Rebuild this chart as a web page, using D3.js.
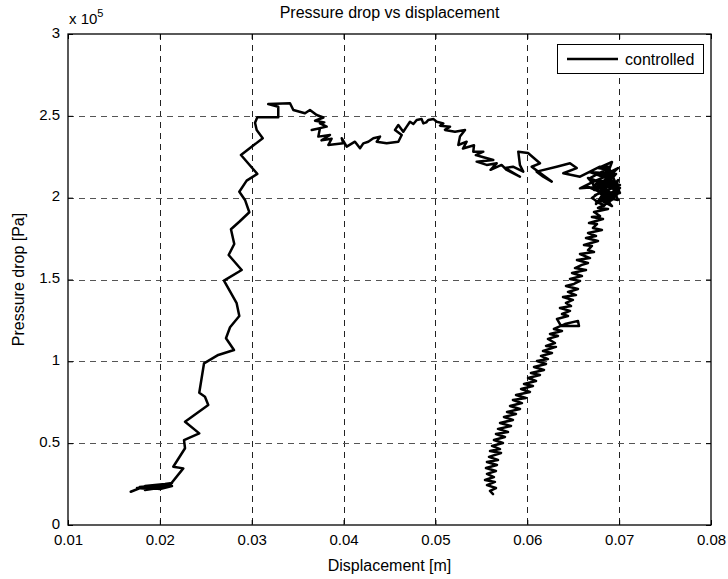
<!DOCTYPE html>
<html><head><meta charset="utf-8">
<script src="https://cdn.jsdelivr.net/npm/d3@7"></script>
<style>body{margin:0;background:#fff}svg{display:block}text{font-family:Arial,"Liberation Sans",Helvetica,sans-serif;fill:#000}</style>
</head><body><svg id="c" width="728" height="579"></svg>
<script>
// ---- data ----
const xTicks = [0.01, 0.02, 0.03, 0.04, 0.05, 0.06, 0.07, 0.08];
const yTicks = [0, 0.5, 1, 1.5, 2, 2.5, 3];            // x 10^5 Pa
const seriesName = "controlled";
// [displacement (m), pressure drop (x10^5 Pa)]
const riseLeg = [
 [0.01683,0.203],[0.01838,0.238],[0.02056,0.250],[0.02132,0.257],[0.01893,0.220],[0.01751,0.226],
 [0.02001,0.232],[0.02089,0.244],[0.01838,0.214],[0.02132,0.238],[0.02001,0.220],[0.01780,0.232],
 [0.02120,0.250],[0.01870,0.228],[0.02080,0.236],[0.02110,0.244],
 [0.02255,0.346],[0.02146,0.356],[0.02274,0.469],[0.02263,0.519],[0.02429,0.560],[0.02274,0.631],
 [0.02527,0.733],[0.02491,0.784],[0.02429,0.808],[0.02481,0.988],[0.02636,1.039],[0.02807,1.069],
 [0.02720,1.141],[0.02764,1.208],[0.02865,1.277],[0.02836,1.355],[0.02698,1.493],[0.02891,1.558],
 [0.02749,1.650],[0.02810,1.717],[0.02774,1.807],[0.02865,1.853],[0.02974,1.911],[0.02927,1.986],
 [0.02865,2.036],[0.02945,2.104],[0.03061,2.145],[0.02883,2.261],[0.03120,2.363],[0.03054,2.413],
 [0.03036,2.458],[0.03061,2.491],[0.03289,2.491],[0.03289,2.556],[0.03180,2.572],[0.03417,2.577]
];
const plateauLeg = [
 [0.03453,2.536],[0.03580,2.516],[0.03634,2.536],[0.03707,2.505],[0.03780,2.490],[0.03690,2.470],
 [0.03790,2.460],[0.03743,2.454],[0.03816,2.434],[0.03653,2.414],[0.03743,2.424],[0.03725,2.373],
 [0.03852,2.383],[0.03760,2.350],[0.03870,2.360],[0.03834,2.322],[0.03997,2.332],[0.03980,2.363],
 [0.04034,2.312],[0.04124,2.342],[0.04179,2.302],[0.04215,2.332],[0.04269,2.342],[0.04324,2.363],
 [0.04397,2.373],[0.04361,2.342],[0.04469,2.332],[0.04596,2.342],[0.04633,2.383],[0.04560,2.414],
 [0.04596,2.444],[0.04650,2.403],[0.04687,2.434],[0.04723,2.464],[0.04760,2.450],[0.04796,2.475],
 [0.04850,2.480],[0.04868,2.454],[0.04900,2.460],[0.04922,2.475],[0.04980,2.480],[0.05014,2.464],
 [0.05086,2.454],[0.05050,2.440],[0.05159,2.434],[0.05104,2.414],[0.05213,2.403],[0.05322,2.414],
 [0.05267,2.373],[0.05249,2.322],[0.05340,2.342],[0.05300,2.300],[0.05420,2.320],[0.05412,2.281],
 [0.05521,2.281],[0.05440,2.260],[0.05504,2.250],[0.05630,2.230],[0.05449,2.220],[0.05558,2.200],
 [0.05667,2.210],[0.05600,2.170],[0.05720,2.200],[0.05776,2.169],[0.05920,2.128]
];
const cornerLeg = [
 [0.05757,2.181],[0.05844,2.189],[0.05956,2.159],[0.05920,2.200],[0.05902,2.281],[0.06008,2.273],
 [0.06138,2.210],[0.06048,2.189],[0.06266,2.098],[0.06174,2.128],[0.06102,2.159],[0.06320,2.189],
 [0.06465,2.210],[0.06538,2.181],[0.06392,2.149],[0.06574,2.128],[0.06683,2.159],[0.06791,2.189],
 [0.06882,2.189],[0.06846,2.128],[0.06683,2.088],[0.06574,2.057],[0.06791,2.067],[0.06900,2.108],
 [0.06756,2.149],[0.06936,2.128],[0.06973,2.047],[0.06827,2.006],[0.06719,2.077],[0.06864,2.098],
 [0.06991,2.027],[0.06882,1.966],[0.06810,2.047],[0.06955,2.169],[0.06770,2.108],[0.07009,2.077],
 [0.06737,2.016],[0.06922,2.059],[0.06683,2.120],[0.06846,2.169],[0.06988,1.986],[0.06810,2.006],
 [0.07009,2.029],[0.06900,2.169],[0.06770,2.181],[0.06922,2.218],[0.06857,2.120],[0.06683,2.157],
 [0.06966,2.145],[0.06792,2.035],[0.06639,2.071],[0.06900,2.010],[0.06748,2.084],[0.07009,2.059],
 [0.06835,1.949],[0.06704,1.998],[0.06944,2.096],[0.06813,2.132],[0.06988,2.181],[0.06726,2.047],
 [0.06879,2.071],[0.06661,2.120],[0.06922,1.949],[0.06792,1.986],[0.06966,2.010],[0.06857,2.047],
 [0.06748,1.961],[0.06988,2.108]
];
const descentLeg = [
 [0.06922,1.986],[0.06748,1.974],[0.06835,1.955],[0.06770,1.937],[0.06879,1.931],[0.06726,1.912],
 [0.06792,1.888],[0.06704,1.882],[0.06824,1.870],[0.06672,1.845],[0.06759,1.839],[0.06715,1.815],
 [0.06813,1.802],[0.06661,1.784],[0.06748,1.766],[0.06639,1.754],[0.06770,1.735],[0.06617,1.711],
 [0.06704,1.705],[0.06661,1.680],[0.06726,1.668],[0.06574,1.656],[0.06683,1.631],[0.06541,1.619],
 [0.06661,1.601],[0.06595,1.589],[0.06519,1.570],[0.06639,1.558],[0.06487,1.540],[0.06595,1.521],
 [0.06465,1.503],[0.06574,1.491],[0.06508,1.473],[0.06421,1.460],[0.06552,1.442],[0.06443,1.424],
 [0.06530,1.405],[0.06389,1.393],[0.06497,1.375],[0.06421,1.357],[0.06476,1.338],[0.06356,1.326],
 [0.06465,1.308],[0.06378,1.289],[0.06443,1.277],[0.06323,1.259],[0.06367,1.216],[0.06563,1.216],
 [0.06552,1.247],[0.06410,1.228],[0.06290,1.198],[0.06378,1.185],[0.06247,1.167],[0.06334,1.155],
 [0.06225,1.137],[0.06301,1.112],[0.06204,1.094],[0.06312,1.088],[0.06171,1.063],[0.06269,1.051],
 [0.06149,1.033],[0.06225,1.014],[0.06106,1.002],[0.06204,0.984],[0.06073,0.965],[0.06182,0.947],
 [0.06040,0.929],[0.06138,0.917],[0.06008,0.898],[0.06095,0.880],[0.05964,0.862],[0.06062,0.849],
 [0.05932,0.831],[0.06029,0.813],[0.05877,0.794],[0.05986,0.776],[0.05844,0.764],[0.05942,0.745],
 [0.05812,0.727],[0.05921,0.709],[0.05779,0.690],[0.05877,0.678],[0.05746,0.660],[0.05844,0.642],
 [0.05703,0.623],[0.05823,0.605],[0.05681,0.587],[0.05790,0.568],[0.05659,0.556],[0.05757,0.538],
 [0.05637,0.519],[0.05735,0.501],[0.05616,0.483],[0.05703,0.464],[0.05594,0.452],[0.05714,0.440],
 [0.05583,0.416],[0.05681,0.397],[0.05561,0.385],[0.05670,0.367],[0.05550,0.348],[0.05659,0.330],
 [0.05561,0.312],[0.05637,0.293],[0.05540,0.275],[0.05648,0.263],[0.05561,0.244],[0.05659,0.226],
 [0.05594,0.208],[0.05627,0.189]
];

// ---- layout ----
const M = {left: 68, right: 711, top: 34, bottom: 525};
const svg = d3.select("#c");
const x = d3.scaleLinear().domain([0.01, 0.08]).range([M.left, M.right]);
const y = d3.scaleLinear().domain([0, 3]).range([M.bottom, M.top]);
const path = riseLeg.concat(plateauLeg, cornerLeg, descentLeg);

// grid
const grid = svg.append("g").attr("stroke", "#222").attr("stroke-width", 1)
  .attr("stroke-dasharray", "6,5").attr("shape-rendering", "crispEdges");
grid.selectAll("line.v").data(xTicks.slice(1, -1)).enter().append("line")
  .attr("x1", d => Math.round(x(d)) + 0.5).attr("x2", d => Math.round(x(d)) + 0.5)
  .attr("y1", M.top).attr("y2", M.bottom);
grid.selectAll("line.h").data(yTicks.slice(1, -1)).enter().append("line")
  .attr("y1", d => Math.round(y(d)) + 0.5).attr("y2", d => Math.round(y(d)) + 0.5)
  .attr("x1", M.left).attr("x2", M.right).attr("stroke", "#555");

// axes (inward ticks, MATLAB style)
const fmtX = d => d3.format(".2f")(d);
const fmtY = d => (d === 0 ? "0" : d3.format("~g")(d));
const xAxisB = d3.axisBottom(x).tickValues(xTicks).tickSize(-5).tickPadding(9).tickFormat(fmtX);
const xAxisT = d3.axisTop(x).tickValues(xTicks).tickSize(-5).tickFormat("");
const yAxisL = d3.axisLeft(y).tickValues(yTicks).tickSize(-5).tickPadding(8).tickFormat(fmtY);
const yAxisR = d3.axisRight(y).tickValues(yTicks).tickSize(-5).tickFormat("");
function style(g){
  g.selectAll(".tick line").attr("stroke", "#000");
  g.selectAll(".tick text").attr("font-size", 15).attr("font-family", "Arial, 'Liberation Sans', sans-serif").attr("fill", "#000");
}
svg.append("g").attr("transform", `translate(0,${M.bottom})`).call(xAxisB).call(style);
svg.append("g").attr("transform", `translate(0,${M.top})`).call(xAxisT).call(style);
const gy = svg.append("g").attr("transform", `translate(${M.left},0)`).call(yAxisL).call(style);
gy.selectAll(".tick text").attr("dy", "0.22em");
svg.append("g").attr("transform", `translate(${M.right},0)`).call(yAxisR).call(style);
svg.selectAll(".domain").remove();
svg.append("rect").attr("x", M.left).attr("y", M.top).attr("width", M.right - M.left)
  .attr("height", M.bottom - M.top).attr("fill", "none").attr("stroke", "#000").attr("stroke-width", 1.3);

// data line
svg.append("path").datum(path)
  .attr("fill", "none").attr("stroke", "#000").attr("stroke-width", 2.5)
  .attr("stroke-linejoin", "round").attr("stroke-linecap", "round")
  .attr("d", d3.line().x(d => x(d[0])).y(d => y(d[1])));

// exponent label
const ex = svg.append("text").attr("x", M.left + 1).attr("y", 24).attr("font-size", 15);
ex.append("tspan").text("x 10");
ex.append("tspan").attr("dy", -7).attr("font-size", 11).text("5");

// titles
svg.append("text").attr("x", (M.left + M.right) / 2).attr("y", 18).attr("text-anchor", "middle")
  .attr("font-size", 16).text("Pressure drop vs displacement");
svg.append("text").attr("x", (M.left + M.right) / 2).attr("y", 571).attr("text-anchor", "middle")
  .attr("font-size", 16).text("Displacement [m]");
svg.append("text").attr("transform", `translate(24,${(M.top + M.bottom) / 2}) rotate(-90)`)
  .attr("text-anchor", "middle").attr("font-size", 16).text("Pressure drop [Pa]");

// legend
const lg = svg.append("g");
lg.append("rect").attr("x", 557.5).attr("y", 44.5).attr("width", 146).attr("height", 29)
  .attr("fill", "#fff").attr("stroke", "#000").attr("stroke-width", 1);
lg.append("line").attr("x1", 567).attr("x2", 618).attr("y1", 59).attr("y2", 59)
  .attr("stroke", "#000").attr("stroke-width", 2.5);
lg.append("text").attr("x", 625).attr("y", 64.5).attr("font-size", 16).text(seriesName);
</script>
</body></html>
